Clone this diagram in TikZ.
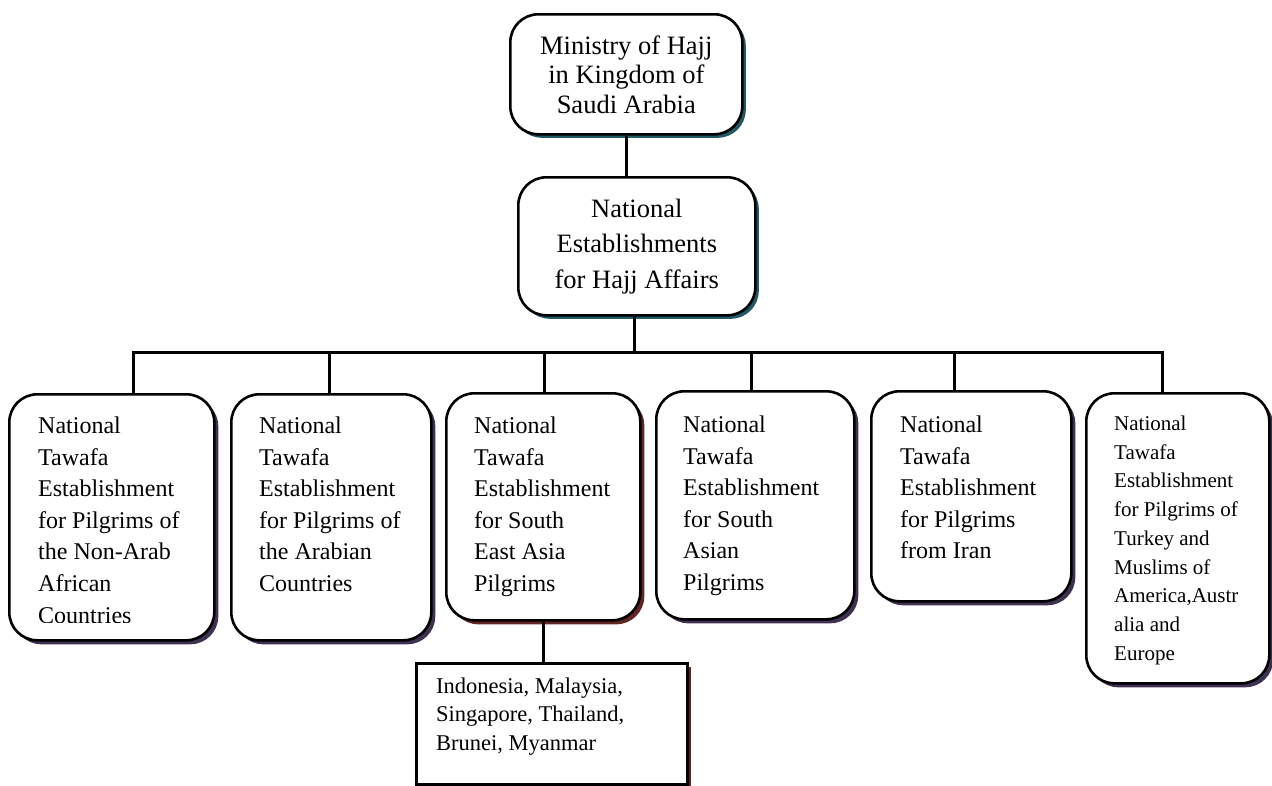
\documentclass[tikz,border=0pt]{standalone}
\usepackage{fontspec}
\setmainfont{Liberation Serif}
\usetikzlibrary{positioning, shadows}

\definecolor{tealshadow}{HTML}{215968}
\definecolor{plumshadow}{HTML}{3F3151}
\definecolor{rustshadow}{HTML}{632523}

\begin{document}
\begin{tikzpicture}[
		x=1pt, y=-1pt,
		every node/.style={inner sep=0pt},
		rbox/.style={draw, line width=2.6pt, rounded corners=28pt, fill=white, anchor=north west},
		sbox/.style={draw, line width=2.6pt, fill=white, anchor=north west},
		tealdrop/.style={drop shadow={shadow xshift=3.5pt, shadow yshift=-3.5pt, opacity=1, fill=tealshadow}},
		plumdrop/.style={drop shadow={shadow xshift=4pt, shadow yshift=-4pt, opacity=1, fill=plumshadow}},
		rustdrop/.style={drop shadow={shadow xshift=4pt, shadow yshift=-4pt, opacity=1, fill=rustshadow}},
		ttext/.style={anchor=north west, align=left, font=\fontsize{24}{31.6}\selectfont},
		wire/.style={draw, line width=2.6pt}
		]
		\useasboundingbox (0,0) rectangle (1272,785);
		
		% Top of the chart
		\node[rbox, tealdrop, minimum width=232pt, minimum height=120pt, align=center,
			font=\fontsize{26.5}{29.5}\selectfont] (min) at (509,13) {Ministry of Hajj\\in Kingdom of\\Saudi Arabia};
		\node[rbox, tealdrop, minimum width=237pt, minimum height=138pt, align=center,
			font=\fontsize{26.5}{35.5}\selectfont] (nat) at (517,176) {National\\Establishments\\for Hajj Affairs};
		
		% Tawafa establishments
		\node[rbox, plumdrop, minimum width=205pt, minimum height=246pt] (afr) at (8,393) {};
		\node[rbox, plumdrop, minimum width=200pt, minimum height=246pt] (arb) at (230,393) {};
		\node[rbox, rustdrop, minimum width=194pt, minimum height=227pt] (sea) at (445,392) {};
		\node[rbox, plumdrop, minimum width=198pt, minimum height=228pt] (sas) at (655,390) {};
		\node[rbox, plumdrop, minimum width=200pt, minimum height=210pt] (irn) at (870,390) {};
		\node[rbox, plumdrop, minimum width=183pt, minimum height=290pt] (tur) at (1085,392) {};
		
		% Countries under South East Asia
		\node[sbox, rustdrop, minimum width=271pt, minimum height=121pt] (cnt) at (415,662) {};
		
		% Texts of the boxes
		\begin{scope}
			\clip (afr.north west) rectangle ([yshift=19pt]afr.south east);
			\node[ttext] (afrtxt) at ([shift={(30,23.6)}]afr.north west) {National\\Tawafa\\Establishment\\for Pilgrims of\\the Non-Arab\\African\\Countries};
		\end{scope}
		\node[ttext] (arbtxt) at ([shift={(29,23.6)}]arb.north west) {National\\Tawafa\\Establishment\\for Pilgrims of\\the Arabian\\Countries};
		\node[ttext] (seatxt) at ([shift={(29,24.6)}]sea.north west) {National\\Tawafa\\Establishment\\for South\\East Asia\\Pilgrims};
		\node[ttext] (sastxt) at ([shift={(28,25.6)}]sas.north west) {National\\Tawafa\\Establishment\\for South\\Asian\\Pilgrims};
		\node[ttext] (irntxt) at ([shift={(30,25.6)}]irn.north west) {National\\Tawafa\\Establishment\\for Pilgrims\\from Iran};
		\node[ttext, font=\fontsize{21}{28.75}\selectfont] (turtxt) at ([shift={(29,23.7)}]tur.north west) {National\\Tawafa\\Establishment\\for Pilgrims of\\Turkey and\\Muslims of\\America,Austr\\alia and\\Europe};
		\node[ttext, font=\fontsize{22.5}{28.5}\selectfont] (cnttxt) at ([shift={(21,15.6)}]cnt.north west) {Indonesia, Malaysia,\\Singapore, Thailand,\\Brunei, Myanmar};
		
		% Connectors
		\coordinate (bus) at ([xshift=-2.5pt, yshift=-36pt]nat.south);
		\draw[wire] (min.south) -- (min.south |- nat.north);
		\draw[wire] (bus |- nat.south) -- (bus);
		\foreach \b/\dx in {afr/21.5, arb/-2, sea/1, sas/-4, irn/-17, tur/-15.5}
			\draw[wire] ([xshift=\dx pt]\b.north) |- (bus);
		\draw[wire] (sea.south) -- (sea.south |- cnt.north);
	\end{tikzpicture}
\end{document}
